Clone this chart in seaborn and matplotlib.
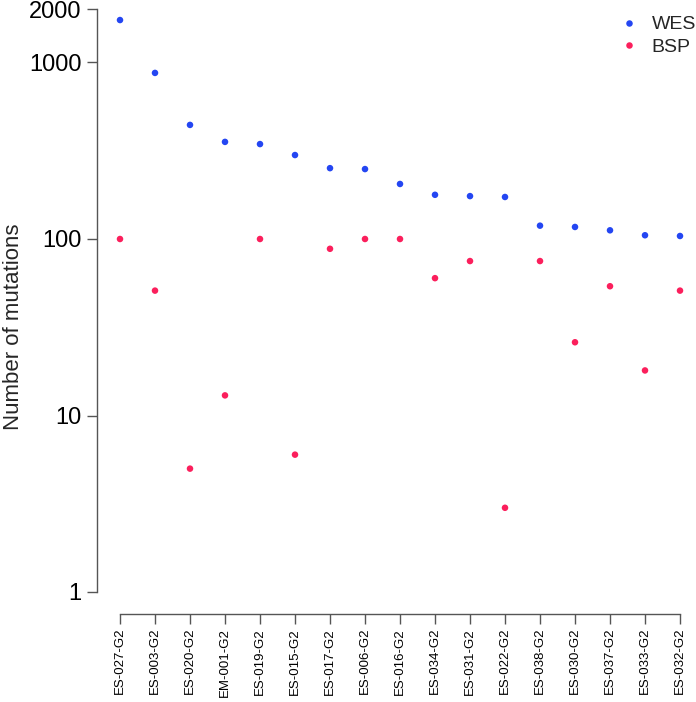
import matplotlib
matplotlib.use("Agg")
import matplotlib.pyplot as plt
import seaborn as sns
import pandas as pd
import numpy as np

samples = ["ES-027-G2", "ES-003-G2", "ES-020-G2", "EM-001-G2", "ES-019-G2", "ES-015-G2",
           "ES-017-G2", "ES-006-G2", "ES-016-G2", "ES-034-G2", "ES-031-G2", "ES-022-G2",
           "ES-038-G2", "ES-030-G2", "ES-037-G2", "ES-033-G2", "ES-032-G2"]
wes = [1740, 873, 443, 355, 345, 299, 252, 249, 205, 178, 175, 173, 119, 117, 112, 105, 104]
bsp = [100, 51, 5, 13, 100, 6, 88, 100, 100, 60, 75, 3, 75, 26, 54, 18, 51]
yticks = [1, 10, 100, 1000, 2000]

sns.set_style("white")
plt.rcParams['font.family'] = ['Liberation Sans', 'DejaVu Sans']

df = pd.DataFrame({
    "sample": samples * 2,
    "x": list(range(len(samples))) * 2,
    "count": wes + bsp,
    "type": ["WES"] * len(samples) + ["BSP"] * len(samples),
})

fig = plt.figure(figsize=(6.96, 7.02), dpi=100)
ax = fig.add_axes([97/696, 88/702, 593/696, 609/702])
sns.scatterplot(data=df, x="x", y="count", hue="type",
                palette={"WES": "#2446f2", "BSP": "#fb1f5c"},
                s=22, linewidth=0, ax=ax, legend=True)
ax.set_yscale("log")
ax.set_xlim(-23/35, 570/35)
ax.set_ylim(10 ** (-22/176.5), 10 ** (587/176.5))
ax.set_yticks(yticks)
ax.set_yticklabels([str(t) for t in yticks], fontsize=17)
ax.yaxis.set_minor_locator(matplotlib.ticker.NullLocator())
ax.set_xticks(range(len(samples)))
ax.set_xticklabels(samples, rotation=90, fontsize=9.5)
ax.set_xlabel("")
ax.set_ylabel("Number of mutations", fontsize=16)
ax.yaxis.set_label_coords(-0.123, 0.471)
for s in ["top", "right"]:
    ax.spines[s].set_visible(False)
ax.spines["left"].set_bounds(1, 2000)
ax.spines["bottom"].set_bounds(0, len(samples) - 1)
for s in ["left", "bottom"]:
    ax.spines[s].set_color("#555555")
    ax.spines[s].set_linewidth(1.0)
ax.tick_params(axis="both", which="major", bottom=True, left=True, direction="out",
               length=7, width=1.0, color="#555555", labelcolor="black", pad=3)
ax.tick_params(axis="y", pad=4)
leg = ax.legend(loc="upper right", bbox_to_anchor=(1.040, 1.011), frameon=False,
                fontsize=14, handletextpad=0.2, labelspacing=0.25, markerscale=1.0)
fig.savefig("out.png", dpi=100)
